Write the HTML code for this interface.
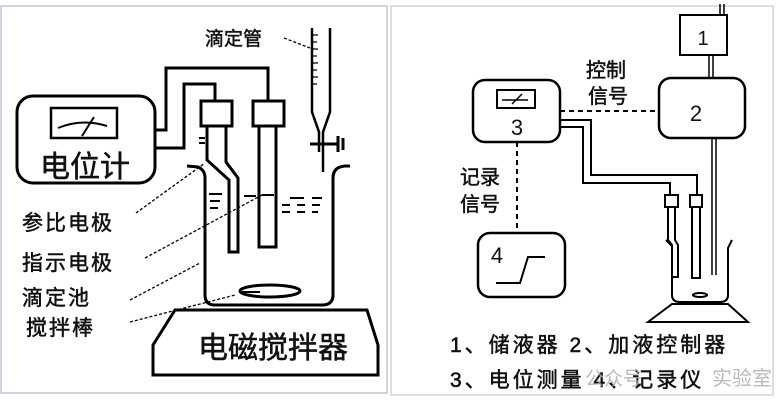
<!DOCTYPE html>
<html><head><meta charset="utf-8"><style>
html,body{margin:0;padding:0;background:#fff;}
svg{display:block;}
text{font-family:"Liberation Sans","Noto Sans CJK SC",sans-serif;fill:#111;}
.b{stroke:#111;stroke-width:0.5;}
</style></head><body>
<svg width="780" height="404" viewBox="0 0 780 404" xmlns="http://www.w3.org/2000/svg">
<rect x="1" y="6" width="386" height="387" fill="none" stroke="#d8cfe0" stroke-width="2"/>
<rect x="391" y="6" width="382" height="389" fill="none" stroke="#ddd" stroke-width="2"/>
<g fill="none" stroke="#000" stroke-width="3">
<rect x="17" y="96" width="138" height="87" rx="16"/>
<rect x="51" y="108" width="66" height="30" stroke-width="2.5"/>
<path d="M58 128 Q82 118 107 126" stroke-width="2"/>
<path d="M82 136 L94 117" stroke-width="2"/>
<path d="M155 130 H166 V68 H268 V100"/>
<path d="M155 148 H184 V84 H215 V100"/>
<rect x="201" y="101" width="31" height="25"/>
<rect x="253" y="101" width="31" height="25"/>
<path d="M207 126 V160 L229 180 V252 H238 V178 L226 162 V126"/>
<path d="M259 126 V247 H276 V126"/>
<path d="M199 138 h6 M199 143 h6" stroke-width="2"/>
<path d="M187 166 L198 167 Q205 170 205 178 V295 Q205 305 215 305 H322 Q333 305 333 295 V178 Q333 167 345 166 H350"/>
<ellipse cx="270" cy="291" rx="30" ry="6"/>
<path d="M242 292 h18" stroke-width="2"/>
<g stroke-width="2">
<path d="M209 194 h13 M210 201 h10 M210 208 h8 M244 196 h12 M262 195 h12 M290 198 h14 M312 198 h10 M282 205 h8 M297 205 h8 M312 205 h8 M282 212 h8 M297 212 h8 M312 212 h6"/>
</g>
<path d="M312 28 V112 L319 132 V152 M330 28 V112 L323 132 V172" stroke-width="2.5"/>
<path d="M310 144 H338 M338 136 V152 M343 138 V150" stroke-width="3"/>
<g stroke-width="1.2"><path d="M313 35 h5 M313 42 h4 M313 49 h5 M313 56 h4 M313 63 h5 M313 70 h4 M313 77 h5 M313 84 h4"/></g>
<path d="M175 310 H367 L378 345 V375 H153 V345 Z" stroke-width="3"/>
</g>
<g stroke="#000" stroke-width="1.3" stroke-dasharray="3,2" fill="none">
<path d="M136 213 L205 163"/>
<path d="M145 258 L262 195"/>
<path d="M130 300 L200 263"/>
<path d="M130 322 L235 295"/>
<path d="M284 38 L310 48"/>
</g>
<text class="b" x="85" y="177" font-size="30" text-anchor="middle">电位计</text>
<text class="b" x="205" y="45" font-size="19">滴定管</text>
<text class="b" x="22" y="230" font-size="21" letter-spacing="2">参比电极</text>
<text class="b" x="22" y="270" font-size="21" letter-spacing="2">指示电极</text>
<text class="b" x="22" y="305" font-size="21" letter-spacing="2">滴定池</text>
<text class="b" x="26" y="335" font-size="21" letter-spacing="2">搅拌棒</text>
<text class="b" x="273" y="358" font-size="30" text-anchor="middle">电磁搅拌器</text>

<g fill="none" stroke="#000" stroke-width="2.5">
<path d="M720 4 V15 M724 4 V15" stroke-width="1.5"/>
<rect x="680" y="15" width="47" height="40" stroke-width="2"/>
<path d="M709 55 V78 M713 55 V78" stroke-width="1.5"/>
<rect x="659" y="78" width="86" height="60" rx="12"/>
<rect x="473" y="80" width="87" height="62" rx="12"/>
<rect x="497" y="90" width="38" height="18" stroke-width="2"/>
<path d="M502 100 h26 M512 104 L522 94" stroke-width="1.5"/>
<path d="M560 111 H659" stroke-dasharray="5,4" stroke-width="2"/>
<path d="M517 142 V233" stroke-dasharray="5,4" stroke-width="2"/>
<path d="M560 120 H591 V175 H697 V195" stroke-width="2"/>
<path d="M560 127 H583 V183 H670 V195" stroke-width="2"/>
<rect x="665" y="195" width="13" height="12" stroke-width="2"/>
<rect x="690" y="195" width="12" height="12" stroke-width="2"/>
<path d="M668 207 V240 L672 245 V277 H678 V245 L675 240 V207" stroke-width="2"/>
<path d="M692 207 V278 H700 V207" stroke-width="2"/>
<path d="M712 138 V275 M716 138 V275" stroke-width="1.5"/>
<path d="M666 240 L672 246 V295 Q672 302 680 302 H720 Q728 302 728 295 V248 L732 240" stroke-width="2"/>
<ellipse cx="700" cy="295" rx="7" ry="2" stroke-width="2"/>
<path d="M648 322 L672 304 H728 L748 322 Z" stroke-width="2"/>
<rect x="478" y="233" width="87" height="64" rx="12"/>
<path d="M496 283 H520 L528 257 H545" stroke-width="2"/>
</g>
<text x="703" y="45" font-size="20" text-anchor="middle">1</text>
<text x="696" y="121" font-size="22" text-anchor="middle">2</text>
<text x="517" y="135" font-size="22" text-anchor="middle">3</text>
<text x="497" y="263" font-size="22" text-anchor="middle">4</text>
<text class="b" x="586" y="77" font-size="20">控制</text>
<text class="b" x="588" y="103" font-size="20">信号</text>
<text class="b" x="460" y="184" font-size="20">记录</text>
<text class="b" x="460" y="211" font-size="20">信号</text>
<text class="b" x="450" y="352" font-size="21" letter-spacing="3">1、储液器 2、加液控制器</text>
<text class="b" x="450" y="387" font-size="21" letter-spacing="3">3、电位测量 4、记录仪</text>
<text x="585" y="385" font-size="19" style="fill:#aaa;opacity:.8">公众号</text>
<text x="712" y="385" font-size="20" style="fill:#aaa;opacity:.8">实验室</text>
</svg>
</body></html>
